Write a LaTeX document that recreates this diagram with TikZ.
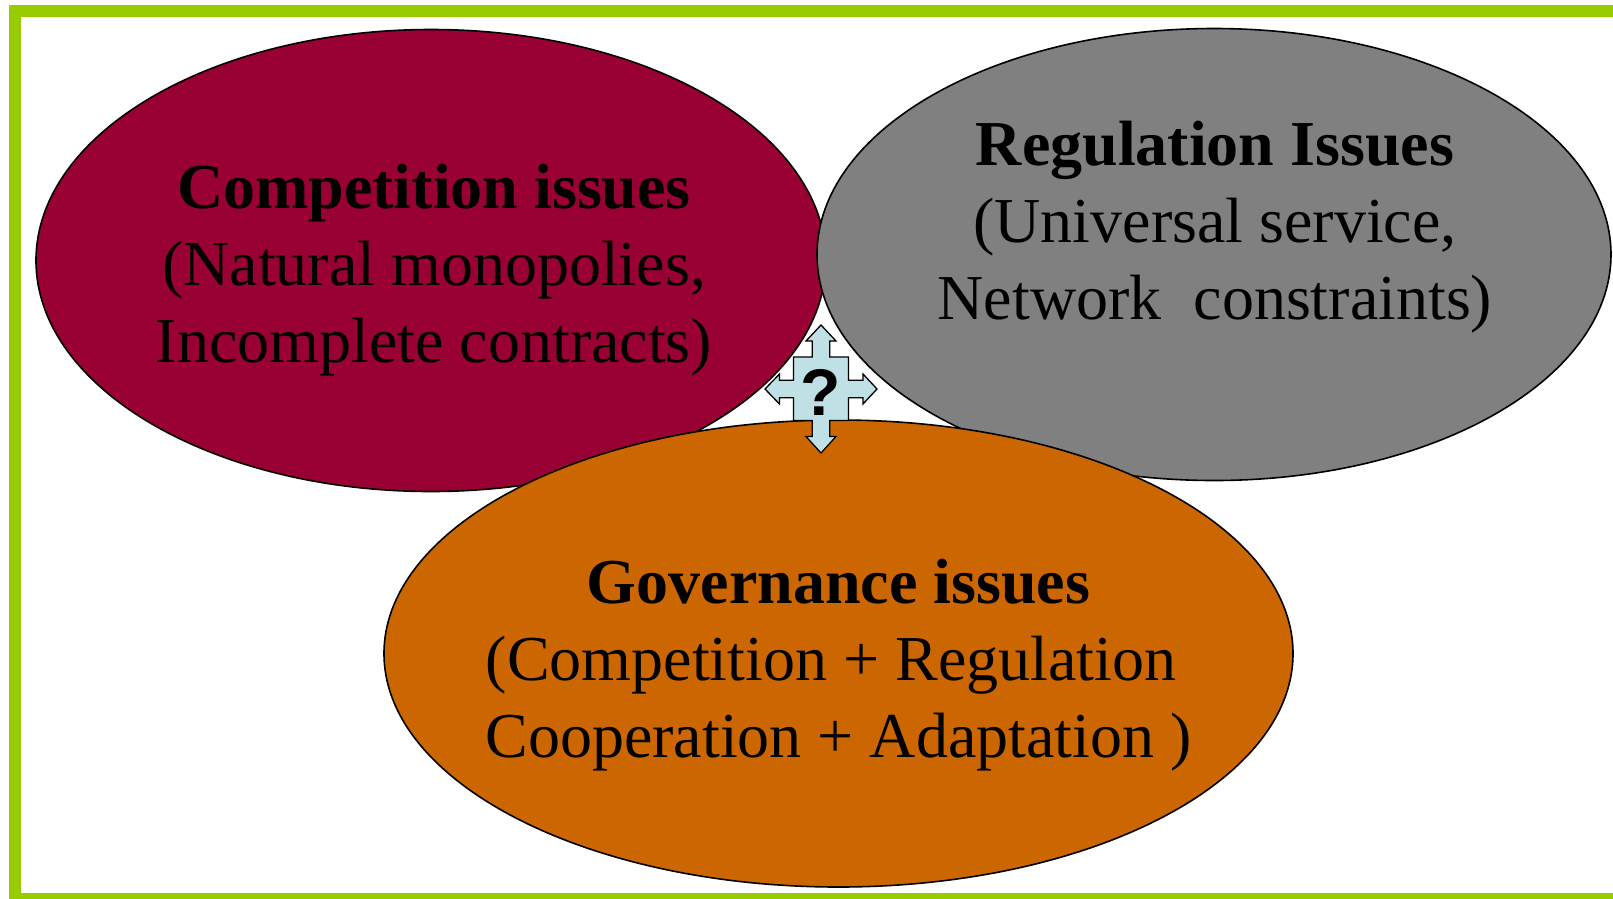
\documentclass[tikz,border=0pt]{standalone}
\usepackage{fontspec}
\setmainfont{Liberation Serif}
\newfontfamily\qfont{Liberation Sans}
\definecolor{framegreen}{RGB}{153,204,0}
\definecolor{compred}{RGB}{153,0,51}
\definecolor{reggray}{RGB}{128,128,128}
\definecolor{govorange}{RGB}{204,102,0}
\definecolor{arrowblue}{RGB}{191,224,228}
\begin{document}
\begin{tikzpicture}[x=1pt,y=-1pt,
  issue/.style={draw=black,line width=1.6pt},
  title/.style={font=\fontsize{64}{77}\selectfont\bfseries,anchor=base,inner sep=0pt},
  body/.style={font=\fontsize{64}{77}\selectfont,anchor=base,inner sep=0pt},
  quad/.style={draw=black,line width=1.3pt,fill=arrowblue,line join=miter}]
\useasboundingbox (0,0) rectangle (1613,898);
\fill[white] (0,0) rectangle (1613,898);
% outer frame
\draw[framegreen,line width=12pt] (15,11) rectangle (1630,899);
% the three issue areas
\draw[issue,fill=compred] (431,260.5) ellipse [x radius=395,y radius=231];
\draw[issue,fill=reggray] (1214,254.5) ellipse [x radius=397,y radius=226];
\draw[issue,fill=govorange] (838.5,653.5) ellipse [x radius=454.5,y radius=233.5];
% texts, one node per line
\node[title] (c1) at (434,208) {Competition issues};
\node[body] (c2) at (434,285) {(Natural monopolies,};
\node[body] (c3) at (434,362) {Incomplete contracts)};
\node[title] (r1) at (1215,165) {Regulation Issues};
\node[body] (r2) at (1215,242) {(Universal service,};
\node[body] (r3) at (1215,319) {Network\ \ constraints)};
\node[title] (g1) at (838.5,603) {Governance issues};
\node[body] (g2) at (831,680) {(Competition + Regulation};
\node[body] (g3) at (838.5,757) {Cooperation + Adaptation )};
% four-way arrow with question mark
\begin{scope}[shift={(821,389)}]
\draw[quad] (0,-64) -- (15,-48) -- (8.8,-48) -- (8.8,-32) -- (27.5,-32)
  -- (27.5,-8.7) -- (42,-8.7) -- (42,-15) -- (56,0) -- (42,15) -- (42,8.7)
  -- (27.5,8.7) -- (27.5,31.5) -- (8.8,31.5) -- (8.8,47.5) -- (15,47.5)
  -- (0,64) -- (-15,47.5) -- (-8.8,47.5) -- (-8.8,31.5) -- (-27.5,31.5)
  -- (-27.5,8.7) -- (-41.5,8.7) -- (-41.5,15) -- (-56,0) -- (-41.5,-15)
  -- (-41.5,-8.7) -- (-27.5,-8.7) -- (-27.5,-32) -- (-8.8,-32) -- (-8.8,-48)
  -- (-15,-48) -- cycle;
\node[font=\qfont\bfseries\fontsize{66}{66}\selectfont,inner sep=0pt] (q) at (0,3) {?};
\end{scope}
\end{tikzpicture}
\end{document}
